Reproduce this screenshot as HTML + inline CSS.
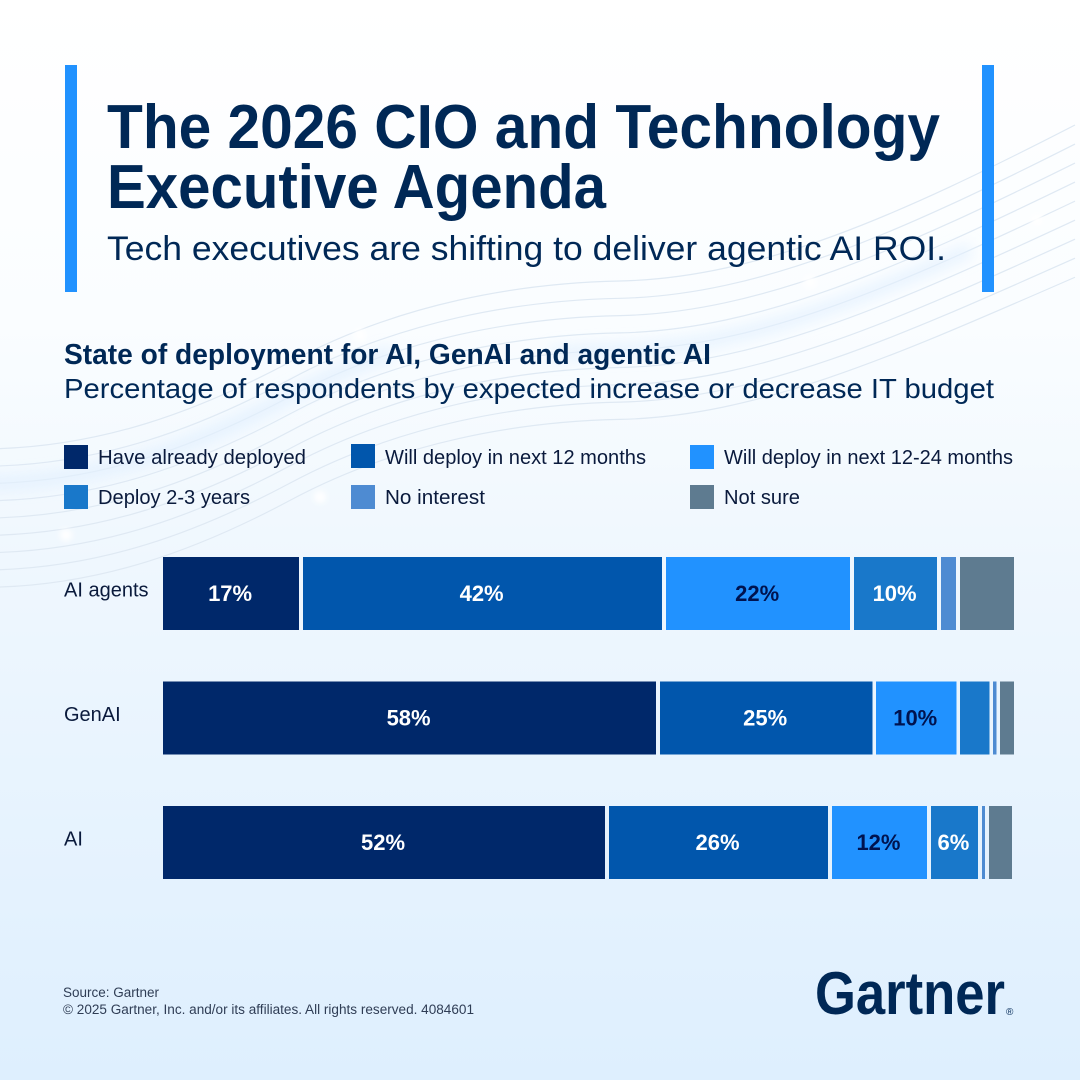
<!DOCTYPE html>
<html lang="en">
<head>
<meta charset="utf-8">
<title>The 2026 CIO and Technology Executive Agenda</title>
<style>
html,body{margin:0;padding:0;background:#fff;}
#stage{display:block;width:1080px;height:1080px;font-family:"Liberation Sans",sans-serif;}
.wave{fill:none;stroke:#dfe9f3;stroke-width:1.2;}
</style>
</head>
<body>
<svg id="stage" xmlns="http://www.w3.org/2000/svg" width="1080" height="1080" viewBox="0 0 1080 1080">
  <defs>
    <linearGradient id="bg" x1="0" y1="0" x2="0" y2="1">
      <stop offset="0" stop-color="#ffffff"/>
      <stop offset="0.3" stop-color="#fafdff"/>
      <stop offset="0.52" stop-color="#eff7fe"/>
      <stop offset="1" stop-color="#deeffe"/>
    </linearGradient>
    <filter id="blur8" x="-20%" y="-60%" width="140%" height="220%"><feGaussianBlur stdDeviation="7"/></filter>
    <filter id="blur3" x="-100%" y="-100%" width="300%" height="300%"><feGaussianBlur stdDeviation="3"/></filter>
  </defs>
  <rect x="0" y="0" width="1080" height="1080" fill="url(#bg)"/>
  <g id="waves"></g>

  <rect x="65" y="65" width="12" height="227" fill="#2192ff"/>
  <rect x="982" y="65" width="12" height="227" fill="#2192ff"/>

  <text x="107" y="148" font-size="62" font-weight="700" fill="#002856" textLength="833" lengthAdjust="spacingAndGlyphs">The 2026 CIO and Technology</text>
  <text x="107" y="208" font-size="62" font-weight="700" fill="#002856" textLength="499" lengthAdjust="spacingAndGlyphs">Executive Agenda</text>
  <text x="107" y="260" font-size="34" fill="#002856" textLength="839" lengthAdjust="spacingAndGlyphs">Tech executives are shifting to deliver agentic AI ROI.</text>

  <text x="64" y="364" font-size="28.5" font-weight="700" fill="#002856" textLength="647" lengthAdjust="spacingAndGlyphs">State of deployment for AI, GenAI and agentic AI</text>
  <text x="64" y="398" font-size="28" fill="#002856" textLength="930" lengthAdjust="spacingAndGlyphs">Percentage of respondents by expected increase or decrease IT budget</text>

  <g>
    <g>
      <rect x="64" y="445" width="24" height="24" fill="#00286a"/>
      <text x="98" y="464" font-size="20" fill="#0a1a3c" textLength="208" lengthAdjust="spacingAndGlyphs">Have already deployed</text>
    </g>
    <g>
      <rect x="351" y="444" width="24" height="24" fill="#0156ac"/>
      <text x="385" y="464" font-size="20" fill="#0a1a3c" textLength="261" lengthAdjust="spacingAndGlyphs">Will deploy in next 12 months</text>
    </g>
    <g>
      <rect x="690" y="445" width="24" height="24" fill="#2192ff"/>
      <text x="724" y="464" font-size="20" fill="#0a1a3c" textLength="289" lengthAdjust="spacingAndGlyphs">Will deploy in next 12-24 months</text>
    </g>
    <g>
      <rect x="64" y="485" width="24" height="24" fill="#1978ca"/>
      <text x="98" y="504" font-size="20" fill="#0a1a3c" textLength="152" lengthAdjust="spacingAndGlyphs">Deploy 2-3 years</text>
    </g>
    <g>
      <rect x="351" y="485" width="24" height="24" fill="#4e8bd2"/>
      <text x="385" y="504" font-size="20" fill="#0a1a3c" textLength="100" lengthAdjust="spacingAndGlyphs">No interest</text>
    </g>
    <g>
      <rect x="690" y="485" width="24" height="24" fill="#5e7b90"/>
      <text x="724" y="504" font-size="20" fill="#0a1a3c" textLength="76" lengthAdjust="spacingAndGlyphs">Not sure</text>
    </g>
  </g>

  <g id="chart"></g>

  <text x="63" y="997" font-size="13.5" fill="#2f3d55" textLength="96" lengthAdjust="spacingAndGlyphs">Source: Gartner</text>
  <text x="63" y="1014" font-size="13.5" fill="#2f3d55" textLength="411" lengthAdjust="spacingAndGlyphs">© 2025 Gartner, Inc. and/or its affiliates. All rights reserved. 4084601</text>

  <g>
    <text x="815" y="1014" font-size="60" font-weight="700" fill="#002856" textLength="190" lengthAdjust="spacingAndGlyphs">Gartner</text>
    <text x="1006" y="1015" font-size="10" fill="#002856">®</text>
  </g>
</svg>

<script>
// Chart data (percent of respondents)
const categories = ['AI agents', 'GenAI', 'AI'];
const seriesNames = ['Have already deployed', 'Will deploy in next 12 months', 'Will deploy in next 12-24 months', 'Deploy 2-3 years', 'No interest', 'Not sure'];
const deployedValues = [16.45, 58.4, 52.4];
const next12Values = [42.66, 25.4, 26.2];
const next1224Values = [22.09, 9.87, 11.63];
const deploy23Values = [10.22, 3.88, 5.99];
const noInterestValues = [2.23, 0.82, 0.82];
const notSureValues = [6.35, 1.65, 2.7];
const deployedLabels = ['17%', '58%', '52%'];
const next12Labels = ['42%', '25%', '26%'];
const next1224Labels = ['22%', '10%', '12%'];
const deploy23Labels = ['10%', '', '6%'];
const noInterestLabels = ['', '', ''];
const notSureLabels = ['', '', ''];

const allValues = [deployedValues, next12Values, next1224Values, deploy23Values, noInterestValues, notSureValues];
const allLabels = [deployedLabels, next12Labels, next1224Labels, deploy23Labels, noInterestLabels, notSureLabels];
const seriesColors = ['#00286a', '#0156ac', '#2192ff', '#1978ca', '#4e8bd2', '#5e7b90'];
const labelColors = ['#ffffff', '#ffffff', '#00134f', '#ffffff', '#ffffff', '#ffffff'];

const NS = 'http://www.w3.org/2000/svg';
const chart = document.getElementById('chart');
const xScale = function (v) { return 163 + v * 8.51; };
const rowTop = function (i) { return 557.2 + i * 124.5; };
const BAR_H = 73;
const GAP = 3.8;

function slug(s) { return s.toLowerCase().replace(/[^a-z0-9]+/g, '-'); }

categories.forEach(function (cat, r) {
  const top = rowTop(r);
  const rowLabel = document.createElementNS(NS, 'text');
  
  
  rowLabel.setAttribute('x', 64);
  rowLabel.setAttribute('y', top + 39.5);
  rowLabel.setAttribute('font-size', 20);
  rowLabel.setAttribute('fill', '#0a1a3c');
  rowLabel.textContent = cat;
  chart.appendChild(rowLabel);

  let cum = 0;
  allValues.forEach(function (vals, s) {
    const v = vals[r];
    const x0 = xScale(cum);
    const x1 = xScale(cum + v);
    const isLast = s === allValues.length - 1;
    const w = Math.max(0, x1 - x0 - (isLast ? 0 : GAP));
    const seg = document.createElementNS(NS, 'rect');
    
    
    seg.setAttribute('x', x0);
    seg.setAttribute('y', top);
    seg.setAttribute('width', w);
    seg.setAttribute('height', BAR_H);
    seg.setAttribute('fill', seriesColors[s]);
    seg.setAttribute('shape-rendering', 'crispEdges');
    chart.appendChild(seg);

    const txt = allLabels[s][r];
    if (txt) {
      const lab = document.createElementNS(NS, 'text');
      
      
      lab.setAttribute('x', x0 + w / 2 - 1);
      lab.setAttribute('y', top + 44);
      lab.setAttribute('text-anchor', 'middle');
      lab.setAttribute('font-size', 22);
      lab.setAttribute('font-weight', '700');
      lab.setAttribute('fill', labelColors[s]);
      lab.textContent = txt;
      chart.appendChild(lab);
    }
    cum += v;
  });
});

// Decorative background waves (not data)
const waves = document.getElementById('waves');
function wavePath(d) {
  return 'M-20,' + (449 + d) +
    ' C100,' + (449 + d) + ' 200,' + (410 + d) + ' 290,' + (362 + d) +
    ' C400,' + (303 + d) + ' 520,' + (283 + d) + ' 620,' + (281 + d) +
    ' C760,' + (278 + d) + ' 900,' + (215 + d) + ' 1075,' + (125 + d * 1.1);
}
for (let i = 0; i < 9; i++) {
  const p = document.createElementNS(NS, 'path');
  
  
  p.setAttribute('class', 'wave');
  p.setAttribute('d', wavePath(i * 17.3));
  waves.appendChild(p);
}
[[34.6, '0 0 38 100', 0.9], [69.2, '0 52 38 100', 0.8]].forEach(function (g) {
  const glow = document.createElementNS(NS, 'path');
  
  
  glow.setAttribute('d', wavePath(g[0]));
  glow.setAttribute('pathLength', 100);
  glow.setAttribute('stroke-dasharray', g[1]);
  glow.setAttribute('fill', 'none');
  glow.setAttribute('stroke', '#e3f1fe');
  glow.setAttribute('stroke-width', 14);
  glow.setAttribute('opacity', g[2]);
  glow.setAttribute('filter', 'url(#blur8)');
  waves.appendChild(glow);
});
[[66, 535], [320, 497], [360, 335], [810, 282], [1037, 220]].forEach(function (n) {
  const halo = document.createElementNS(NS, 'circle');
  
  
  halo.setAttribute('cx', n[0]);
  halo.setAttribute('cy', n[1]);
  halo.setAttribute('r', 6);
  halo.setAttribute('fill', '#ffffff');
  halo.setAttribute('filter', 'url(#blur3)');
  waves.appendChild(halo);
});
</script>
</body>
</html>
